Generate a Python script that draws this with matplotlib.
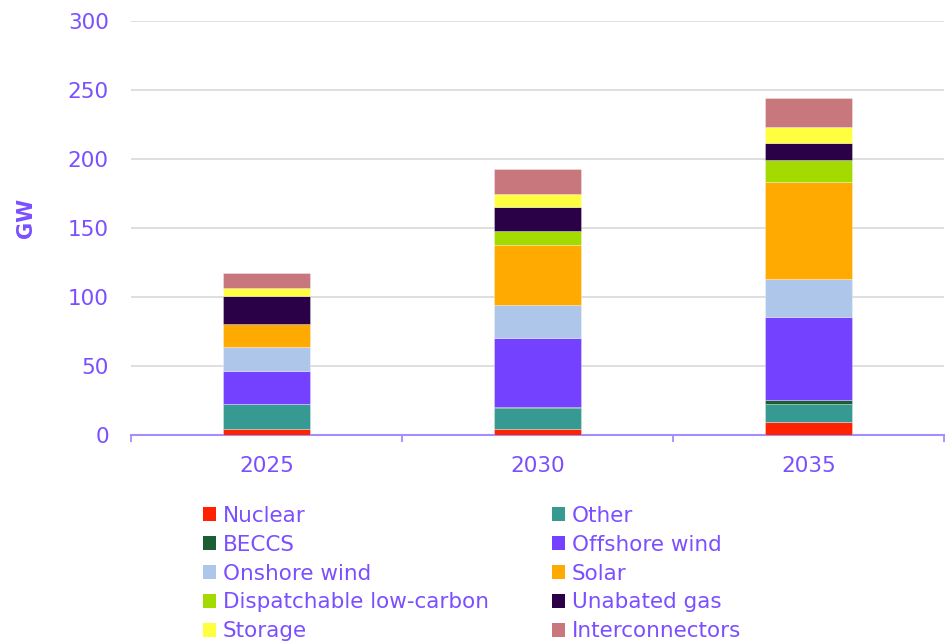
import matplotlib
matplotlib.use("Agg")
import matplotlib.pyplot as plt
import numpy as np
from matplotlib.patches import Patch

years = ["2025", "2030", "2035"]
series = ["Nuclear", "Other", "BECCS", "Offshore wind", "Onshore wind", "Solar",
          "Dispatchable low-carbon", "Unabated gas", "Storage", "Interconnectors"]
nuclear = [4.5, 4.3, 9.3]
other = [18.0, 15.3, 13.5]
beccs = [0.0, 0.7, 2.7]
offshore = [24.0, 50.0, 60.0]
onshore = [17.0, 23.6, 27.5]
solar = [17.0, 43.5, 70.0]
dispatchable = [0.0, 10.5, 16.5]
gas = [20.0, 17.0, 12.3]
storage = [6.3, 10.0, 11.2]
interconnectors = [10.5, 17.6, 21.3]
yticks = [0, 50, 100, 150, 200, 250, 300]

values = [nuclear, other, beccs, offshore, onshore, solar, dispatchable, gas, storage, interconnectors]
colors = ["#FF2200", "#369A92", "#1B5E31", "#7341FF", "#ADC6EA", "#FFAA00",
          "#A3DA00", "#2A0047", "#FFFF40", "#C8777D"]

TXT = "#7B4FFF"
AX = "#A58CFF"

plt.rcParams['font.family'] = ['DejaVu Sans']
fig = plt.figure(figsize=(9.47, 6.43), dpi=100)
ax = fig.add_axes([131/947, 1-435/643, (944-131)/947, (435-21)/643])

x = np.arange(len(years))
bottom = np.zeros(len(years))
for name, vals, c in zip(series, values, colors):
    v = np.array(vals)
    ax.bar(x, v, bottom=bottom, width=0.323, color=c, edgecolor=(1, 1, 1, 0.35),
           linewidth=0.6, label=name, zorder=3)
    bottom += v

ax.set_xlim(-0.5, 2.5)
ax.set_ylim(0, 300)
ax.set_yticks(yticks)
ax.set_yticklabels([str(t) for t in yticks])
ax.yaxis.grid(True, color="#DCDCDC", linewidth=1.3, zorder=0)
ax.set_axisbelow(True)
ax.tick_params(axis='y', length=0, pad=16, labelsize=15.5, labelcolor=TXT)

ax.set_xticks([-0.5, 0.5, 1.5, 2.5])
ax.set_xticklabels([])
ax.set_xticks(x, minor=True)
ax.set_xticklabels(years, minor=True)
ax.tick_params(axis='x', which='major', length=5, width=1.3, color=AX, direction='out')
ax.tick_params(axis='x', which='minor', length=0, pad=15, labelsize=15.5, labelcolor=TXT)

for s in ['top', 'right', 'left']:
    ax.spines[s].set_visible(False)
ax.spines['bottom'].set_color(AX)
ax.spines['bottom'].set_linewidth(1.5)

fig.text(26/947, 1-218/643, "GW", rotation=90, ha='center', va='center',
         color=TXT, fontsize=15, fontweight='bold')

handles = [Patch(facecolor=c, edgecolor='none') for c in colors]
col1 = [0, 2, 4, 6, 8]
col2 = [1, 3, 5, 7, 9]
common = dict(loc='upper left', frameon=False, fontsize=15.5, handlelength=0.62,
              handleheight=0.62, handletextpad=0.3, labelspacing=0.41,
              borderpad=0, borderaxespad=0, labelcolor=TXT)
leg1 = fig.legend([handles[i] for i in col1], [series[i] for i in col1],
                  bbox_to_anchor=(203/947, 1-506/643), **common)
leg2 = fig.legend([handles[i] for i in col2], [series[i] for i in col2],
                  bbox_to_anchor=(552/947, 1-506/643), **common)

fig.savefig("out.png", dpi=100)
